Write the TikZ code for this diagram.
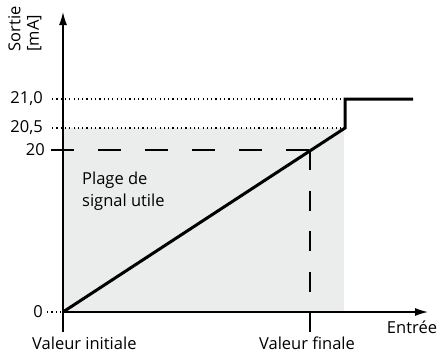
\documentclass[tikz,border=0pt]{standalone}
\usepackage{fontspec}
\setmainfont{Open Sans}
\usetikzlibrary{arrows.meta}
\definecolor{zonegrey}{RGB}{235,237,236}
\tikzset{
  axisline/.style={line width=1.3pt,-{Latex[length=13pt,width=8pt]}},
  guidedot/.style={line width=1.2pt,dash pattern=on 1.2pt off 3.1pt},
  guidedash/.style={line width=1.3pt,dash pattern=on 23pt off 24pt},
  curveline/.style={line width=3pt},
  lbl/.style={font=\fontsize{16.5}{21.5}\selectfont,inner sep=0pt}
}
\begin{document}
\begin{tikzpicture}[x=1pt,y=1pt]
	\useasboundingbox (-63,-45) rectangle (375,312);
	\fill[zonegrey] (0,0) rectangle (281,184);
	\coordinate (O) at (0,0);
	\coordinate (F) at (247,0);
	\coordinate (S) at (282,184);
	\draw[guidedot] (-11,213) -- (282,213);
	\draw[guidedot] (-11,184) -- (S);
	\draw[guidedot] (-16,0) -- (O);
	\draw[guidedash] (-12,162) -- (247,162);
	\draw[guidedash,dash pattern=on 20pt off 20.5pt] (247,162) -- (247,-20);
	\draw[axisline] (0,-20) -- (0,300);
	\draw[axisline] (O) -- (365,0);
	\draw[curveline] (O) -- (S) -- (282,213) -- (350,213);
	\node[lbl,anchor=east] (v21) at (-20,213) {21,0};
	\node[lbl,anchor=east] (v205) at (-20,184) {20,5};
	\node[lbl,anchor=east] (v20) at (-18,162) {20};
	\node[lbl,anchor=east] (v0) at (-20,0) {0};
	\node[lbl,rotate=90,align=left,font=\fontsize{16.5}{18.5}\selectfont] (sortie) at (-38,283) {Sortie\\{}[mA]};
	\node[lbl,align=left,anchor=west] (plage) at (19,121) {Plage de\\signal utile};
	\node[lbl] (entree) at (349,-15) {Entrée};
	\node[lbl,anchor=west] (initiale) at (-31,-31) {Valeur initiale};
	\node[lbl] (finale) at (244,-31) {Valeur finale};
\end{tikzpicture}
\end{document}
